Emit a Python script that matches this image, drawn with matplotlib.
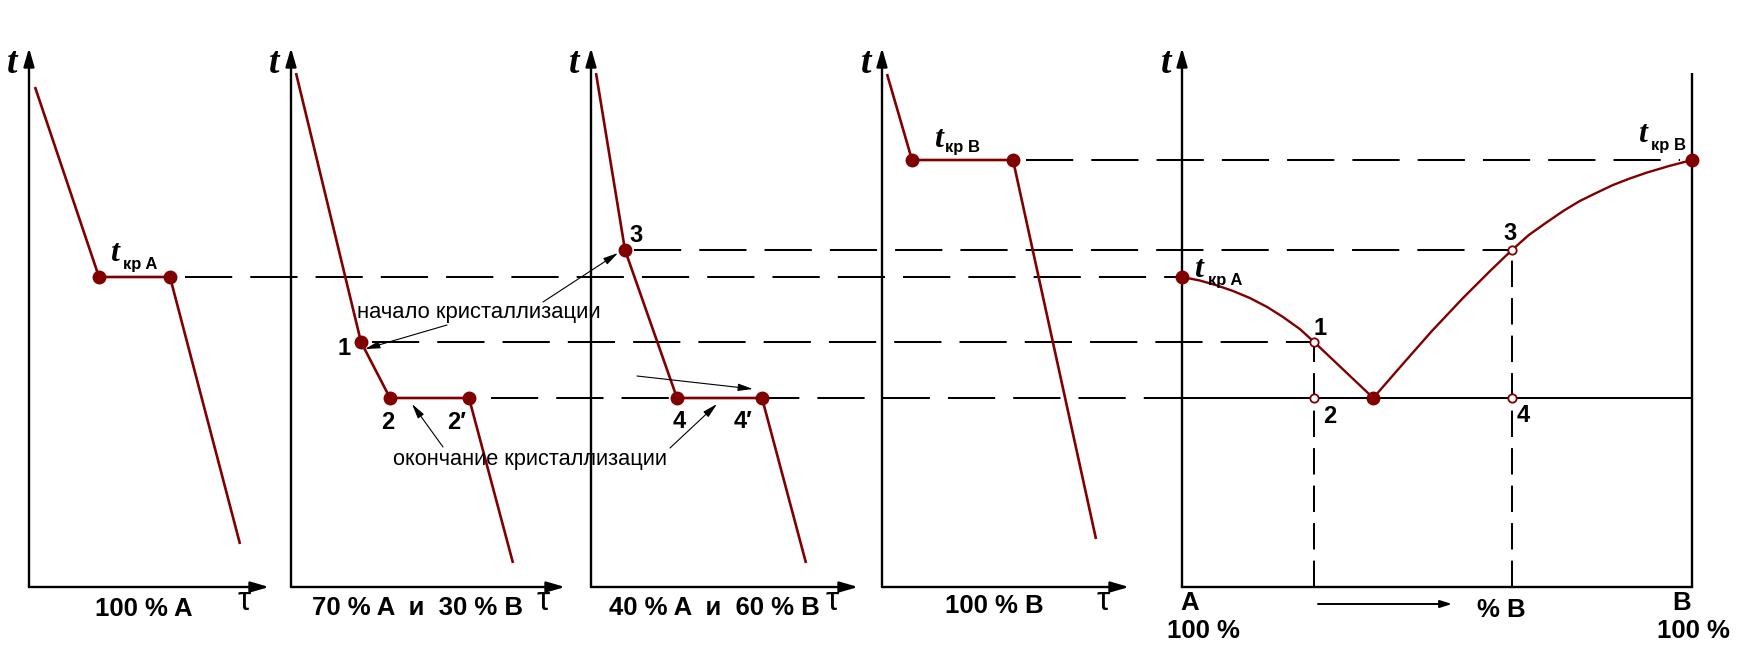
import matplotlib
matplotlib.use("Agg")
import matplotlib.pyplot as plt

plt.rcParams['lines.scale_dashes'] = False
plt.rcParams['lines.solid_capstyle'] = 'butt'
plt.rcParams['lines.dash_capstyle'] = 'butt'

# ---------------- data ----------------
T_KR_A = 310
T_KR_B = 427
T_1 = 245
T_2 = 189      # eutectic / end of crystallisation
T_3 = 337

# cooling curves: time (arb. units) and temperature (arb. units)
time_A = [6, 70, 141, 211]
temp_A = [500, T_KR_A, T_KR_A, 43]
time_70 = [5, 70, 99, 178, 222]
temp_70 = [514, T_1, T_2, T_2, 24]
time_40 = [5, 34, 86, 171, 215]
temp_40 = [514, T_3, T_2, T_2, 24]
time_B = [5, 30, 131, 214]
temp_B = [513, T_KR_B, T_KR_B, 48]

# phase diagram: composition (% B) and temperature
liq_left_comp = [0, 3.5, 6.9, 10.0, 13.3, 16.7, 19.8, 23.1, 25.9, 37.5]
liq_left_temp = [310, 306.5, 301.5, 296, 289, 280, 270, 258, 245, 189]
liq_right_comp = [37.5, 43.3, 49.0, 55.1, 60.6, 64.7, 68.0, 71.6, 74.9, 78.0,
                  81.2, 84.5, 87.8, 91.2, 95.5, 100]
liq_right_temp = [189, 223, 256, 289, 317, 337, 352, 365, 376.5, 386,
                  394, 402, 408.5, 414.5, 421, 427]
COMP_1 = 25.9
COMP_3 = 64.7
COMP_E = 37.5

panel_labels = ["100 % A", "70 % A  и  30 % B", "40 % A  и  60 % B", "100 % B"]
curves = [(time_A, temp_A), (time_70, temp_70), (time_40, temp_40), (time_B, temp_B)]

# ---------------- layout ----------------
RED = '#800000'
BASE = 587          # pixel row of the temperature zero line
PANEL_X0 = [29, 291, 591, 882]
PANEL_X1 = [269, 565, 858, 1129]
LABEL_X = [144, 418, 714, 994]
LABEL_Y = [616, 615, 615, 613]
TAU_X = [244, 543, 832, 1103]
T_LABEL_X = [12, 274, 574, 866, 1166]
CX0, CX1 = 1182, 1692
T_TOP = BASE - 48
T_RIGHT_TOP = BASE - 73


def Y(ypix):
    return BASE - ypix


def cx(c):
    return CX0 + c * (CX1 - CX0) / 100.0


fig = plt.figure(figsize=(17.5, 6.5), dpi=100)
ax = fig.add_axes([0, 0, 1, 1])
ax.set_xlim(0, 1750)
ax.set_ylim(BASE - 650, BASE)
ax.axis('off')

BOLD = dict(family=['Liberation Sans', 'DejaVu Sans'], fontweight='bold', color='k')
SERIF_T = dict(family=['Liberation Serif', 'DejaVu Serif'], fontweight='bold', fontstyle='italic', color='k')
PLAIN = dict(family=['Liberation Sans', 'DejaVu Sans'], color='k')


def arrow(x0, y0, x1, y1, lw=1.7, hl=1.1, hw=0.32, ms=10):
    ax.annotate('', xy=(x1, y1), xytext=(x0, y0),
                arrowprops=dict(arrowstyle=f'-|>,head_length={hl},head_width={hw}',
                                lw=lw, color='k', shrinkA=0, shrinkB=0,
                                mutation_scale=ms))


def dashed(x0, x1, t, dash=(34, 13)):
    ax.plot([x0, x1], [t, t], color='k', lw=1.45, dashes=dash, zorder=1)


# horizontal dashed construction lines
dashed(185, CX0, T_KR_A)
dashed(372, cx(COMP_1), T_1)
dashed(491, 1155, T_2)
ax.plot([1155, CX1], [T_2, T_2], color='k', lw=1.45, zorder=1)
dashed(634, cx(COMP_3), T_3)
dashed(1026, 1680, T_KR_B)

# cooling-curve panels
for i, (tm, tp) in enumerate(curves):
    x0 = PANEL_X0[i]
    arrow(x0, 0, x0, T_TOP)
    arrow(x0, 0, PANEL_X1[i], 0)
    xs = [x0 + t for t in tm]
    ax.plot(xs, tp, color=RED, lw=1.9, zorder=3, solid_capstyle='butt')
    ax.plot(xs[1:-1], tp[1:-1], 'o', ms=9, color=RED, zorder=4)
    ax.text(LABEL_X[i], Y(LABEL_Y[i]), panel_labels[i], ha='center', va='baseline',
            fontsize=18.5, **BOLD)
    ax.text(TAU_X[i], Y(610), 'τ', ha='center', va='baseline', fontsize=24, **PLAIN)

for x in T_LABEL_X:
    ax.text(x, Y(73), 't', ha='center', va='baseline', fontsize=27, **SERIF_T)


def lab(txt, xy, off, size=17, ha='center', style=None, va='baseline'):
    st = BOLD if style is None else style
    ax.annotate(txt, xy=xy, xytext=off, textcoords='offset pixels', ha=ha, va=va,
                fontsize=size, zorder=6, **st)


def tkr(xy, off_t, off_s, sub):
    lab('t', xy, off_t, size=23, ha='left', style=SERIF_T)
    lab('кр ' + sub, xy, off_s, size=12, ha='left')


# t_kr labels on cooling curves
tkr((PANEL_X0[0] + time_A[1], T_KR_A), (11, 16), (24, 8), 'A')
tkr((PANEL_X0[3] + time_B[1], T_KR_B), (22, 13), (33, 8), 'B')

# point labels on cooling curves
p1 = (PANEL_X0[1] + time_70[1], T_1)
p2 = (PANEL_X0[1] + time_70[2], T_2)
p2b = (PANEL_X0[1] + time_70[3], T_2)
p3 = (PANEL_X0[2] + time_40[1], T_3)
p4 = (PANEL_X0[2] + time_40[2], T_2)
p4b = (PANEL_X0[2] + time_40[3], T_2)
lab('1', p1, (-17, -13))
lab('2', p2, (-2, -31))
lab('2\u2032', p2b, (-22, -31), ha='left')
lab('3', p3, (11, 8))
lab('4', p4, (2, -30))
lab('4\u2032', p4b, (-28, -30), ha='left')

# annotation texts and thin arrows
ax.text(357, Y(318), 'начало кристаллизации', ha='left', va='baseline', fontsize=15.8, **PLAIN)
ax.text(393, Y(465), 'окончание кристаллизации', ha='left', va='baseline', fontsize=15.7, **PLAIN)
thin = dict(lw=0.8, hl=0.9, hw=0.22)
arrow(447, Y(325), p1[0] + 4, p1[1] - 7, **thin)
arrow(543, Y(302), p3[0] - 7, p3[1] - 3, **thin)
arrow(443, Y(447), 412, Y(404), **thin)
arrow(670, Y(448), 717, Y(404), **thin)
arrow(637, Y(376), 753, Y(389), **thin)

# ---------------- phase diagram ----------------
arrow(CX0, 0, CX0, T_TOP)
ax.plot([CX0, CX1], [0, 0], color='k', lw=1.7, solid_capstyle='projecting')
ax.plot([CX1, CX1], [0, T_RIGHT_TOP], color='k', lw=1.7)

ax.plot([cx(c) for c in liq_left_comp], liq_left_temp, color=RED, lw=1.7, zorder=3)
ax.plot([cx(c) for c in liq_right_comp], liq_right_temp, color=RED, lw=1.7, zorder=3)

for c, t in [(COMP_1, T_1), (COMP_3, T_3)]:
    ax.plot([cx(c), cx(c)], [0, t], color='k', lw=1.45, dashes=(19, 8), zorder=1)

ax.plot([cx(0), cx(100), cx(COMP_E)], [T_KR_A, T_KR_B, T_2], 'o', ms=9, color=RED, zorder=4)
ax.plot([cx(COMP_1), cx(COMP_1), cx(COMP_3), cx(COMP_3)], [T_1, T_2, T_3, T_2], 'o',
        ms=6, mfc='white', mec=RED, mew=1.3, zorder=5)

lab('1', (cx(COMP_1), T_1), (6, 7))
lab('2', (cx(COMP_1), T_2), (16, -25))
lab('3', (cx(COMP_3), T_3), (-2, 10))
lab('4', (cx(COMP_3), T_2), (11, -24))
tkr((cx(0), T_KR_A), (12, 0), (26, -8), 'A')
tkr((cx(100), T_KR_B), (-54, 18), (-41, 10), 'B')

ax.text(1190, Y(610), 'A', ha='center', va='baseline', fontsize=18.5, **BOLD)
ax.text(1203, Y(638), '100 %', ha='center', va='baseline', fontsize=18.5, **BOLD)
ax.text(1682, Y(610), 'B', ha='center', va='baseline', fontsize=18.5, **BOLD)
ax.text(1693, Y(638), '100 %', ha='center', va='baseline', fontsize=18.5, **BOLD)
ax.text(1501, Y(617), '% B', ha='center', va='baseline', fontsize=18.5, **BOLD)
arrow(1318, Y(604), 1452, Y(604), lw=1.4, hl=0.7, hw=0.22)

fig.savefig('out.png', dpi=100, facecolor='white')
